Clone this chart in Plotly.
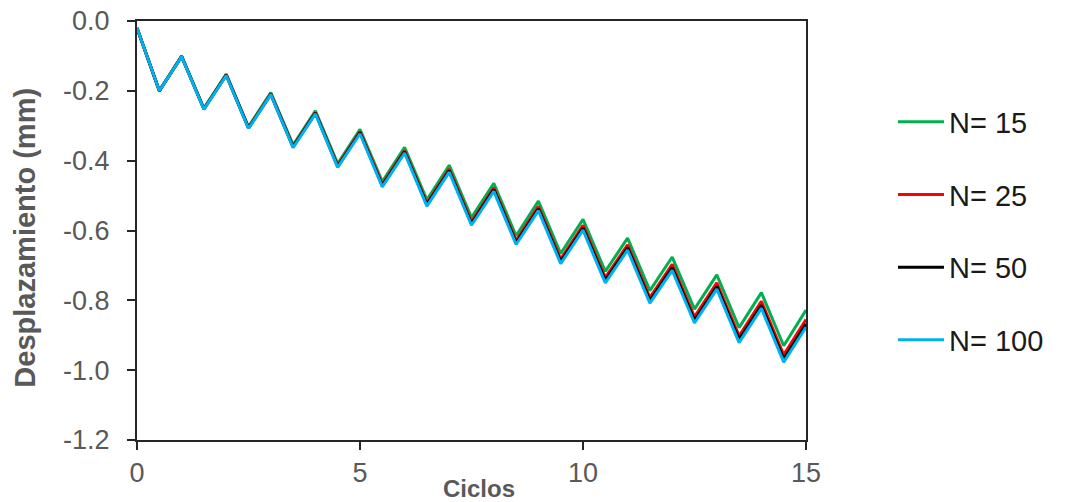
import plotly.graph_objects as go

ciclos = [0, 0.5, 1, 1.5, 2, 2.5, 3, 3.5, 4, 4.5, 5, 5.5, 6, 6.5, 7, 7.5,
          8, 8.5, 9, 9.5, 10, 10.5, 11, 11.5, 12, 12.5, 13, 13.5, 14, 14.5, 15]

n15 = [-0.02, -0.20, -0.100, -0.250, -0.152, -0.303, -0.205, -0.355, -0.257, -0.408,
       -0.310, -0.460, -0.362, -0.512, -0.413, -0.563, -0.465, -0.615, -0.516, -0.666,
       -0.568, -0.717, -0.622, -0.772, -0.676, -0.825, -0.727, -0.878, -0.778, -0.930, -0.828]

n25 = [-0.02, -0.20, -0.101, -0.252, -0.154, -0.306, -0.208, -0.359, -0.262, -0.414,
       -0.317, -0.468, -0.371, -0.522, -0.424, -0.575, -0.478, -0.629, -0.531, -0.682,
       -0.585, -0.735, -0.641, -0.792, -0.697, -0.847, -0.750, -0.902, -0.803, -0.956, -0.855]

n50 = [-0.02, -0.20, -0.102, -0.252, -0.155, -0.307, -0.210, -0.361, -0.264, -0.417,
       -0.320, -0.472, -0.375, -0.526, -0.429, -0.581, -0.483, -0.635, -0.538, -0.689,
       -0.593, -0.743, -0.649, -0.801, -0.706, -0.857, -0.760, -0.912, -0.814, -0.968, -0.867]

n100 = [-0.02, -0.20, -0.102, -0.253, -0.156, -0.308, -0.211, -0.363, -0.266, -0.419,
        -0.323, -0.475, -0.378, -0.530, -0.433, -0.585, -0.488, -0.640, -0.543, -0.695,
        -0.599, -0.750, -0.656, -0.808, -0.714, -0.865, -0.768, -0.921, -0.823, -0.977, -0.877]

series_names = ["N= 15", "N= 25", "N= 50", "N= 100"]
series_values = [n15, n25, n50, n100]
series_colors = ["#00B050", "#FF0000", "#000000", "#00B0F0"]

x_ticks = [0, 5, 10, 15]
x_tick_labels = ["0", "5", "10", "15"]
y_ticks = [0, -0.2, -0.4, -0.6, -0.8, -1.0, -1.2]
y_tick_labels = ["0.0", "-0.2", "-0.4", "-0.6", "-0.8", "-1.0", "-1.2"]

fig = go.Figure()
for name, vals, col in zip(series_names, series_values, series_colors):
    fig.add_trace(go.Scatter(x=ciclos, y=vals, mode="lines", name=name,
                             legendgroup=name,
                             line=dict(color=col, width=3)))

axis_common = dict(showgrid=False, zeroline=False, showline=True, mirror=True,
                   automargin=False,
                   linecolor="#262626", linewidth=2, ticks="outside", ticklen=8,
                   tickwidth=2, tickcolor="#262626",
                   tickfont=dict(family="Liberation Sans, Arial", size=27, color="#595959"))

fig.update_layout(
    width=1073, height=502,
    margin=dict(l=137, r=267, t=21, b=62, autoexpand=False),
    paper_bgcolor="white", plot_bgcolor="white",
    font=dict(family="Liberation Sans, Arial"),
    xaxis=dict(range=[0, 15], tickvals=x_ticks, ticktext=x_tick_labels,
               ticklabelstandoff=0, **axis_common),
    yaxis=dict(range=[-1.2, 0], tickvals=y_ticks, ticktext=y_tick_labels,
               ticklabelstandoff=12, **axis_common),
    legend=dict(x=1.13, xanchor="left", y=0.82, yanchor="top",
                tracegroupgap=32, itemwidth=46, bgcolor="rgba(0,0,0,0)",
                font=dict(family="Liberation Sans, Arial", size=29, color="#1a1a1a")),
    showlegend=True,
    annotations=[
        dict(text="<b>Desplazamiento (mm)</b>", textangle=-90, xref="paper", yref="paper",
             x=-0.1674, y=0.483, xanchor="center", yanchor="middle", showarrow=False,
             font=dict(family="Liberation Sans, Arial", size=29, color="#595959")),
        dict(text="<b>Ciclos</b>", xref="paper", yref="paper",
             x=0.511, y=-0.115, xanchor="center", yanchor="middle", showarrow=False,
             font=dict(family="Liberation Sans, Arial", size=24, color="#595959")),
    ],
)

fig.write_html("out.html", config={"displayModeBar": False},
               post_script="document.body.style.margin='0';")
